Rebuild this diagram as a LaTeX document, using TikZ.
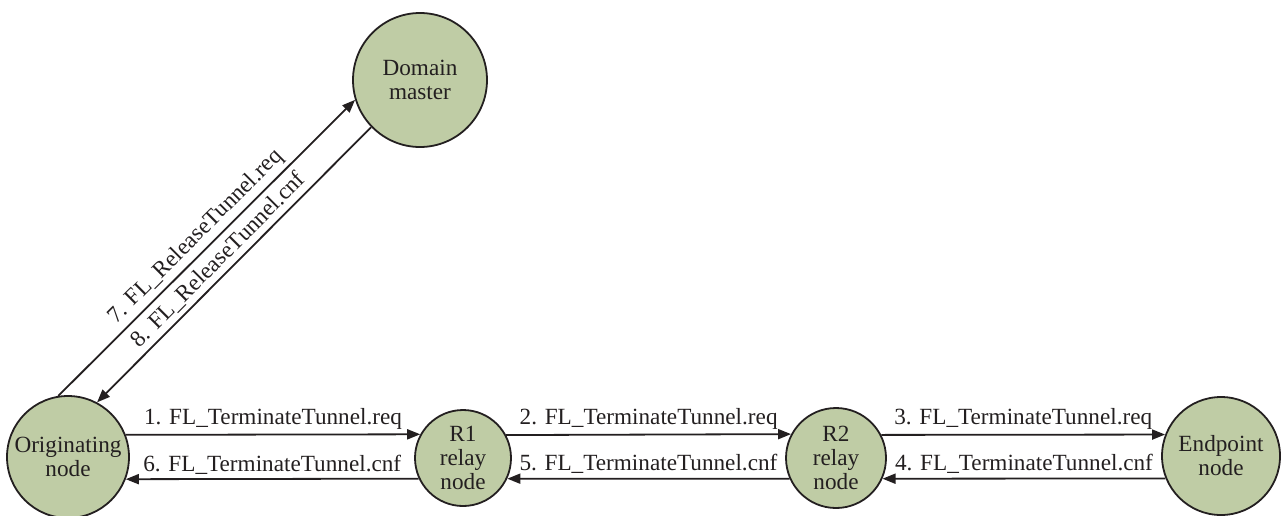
\documentclass[tikz,border=0pt]{standalone}
\usepackage{fontspec}
\setmainfont{Liberation Serif}
\usetikzlibrary{arrows.meta}
\definecolor{nodefill}{RGB}{191,204,165}
\definecolor{ink}{RGB}{35,31,32}
\begin{document}
\begin{tikzpicture}[x=0.5pt,y=-0.5pt,
  statenode/.style={circle, draw=ink, line width=0.9pt, fill=nodefill, inner sep=0pt,
    align=center, text=ink, font=\fontsize{11.6}{12}\selectfont},
  msg/.style={draw=ink, line width=0.9pt, -{Triangle[length=6.5pt,width=5pt]}},
  msgback/.style={draw=ink, line width=0.9pt, {Triangle[length=6.5pt,width=5pt]}-},
  lbl/.style={font=\fontsize{11.6}{12}\selectfont, text=ink, inner sep=2pt}]
\useasboundingbox (0,0) rectangle (1288,515);
\node[statenode, minimum size=67pt] (dm) at (420,80) {Domain\\master};
\node[statenode, minimum size=61pt] (orig) at (68,457) {Originating\\node};
\node[statenode, minimum size=48pt] (r1) at (463,458) {R1\\relay\\node};
\node[statenode, minimum size=50pt] (r2) at (836,458) {R2\\relay\\node};
\node[statenode, minimum size=59pt] (ep) at (1221,456) {Endpoint\\node};
% horizontal messages
\draw[msg] (orig.21.1) -- node[lbl, above] {1. FL\_TerminateTunnel.req} (r1.151.4);
\draw[msg] (r1.28.6) -- node[lbl, above] {2. FL\_TerminateTunnel.req} (r2.152.6);
\draw[msg] (r2.27.4) -- node[lbl, above] {3. FL\_TerminateTunnel.req} (ep.159.1);
\draw[msg] (ep.202.9) -- node[lbl, above] {4. FL\_TerminateTunnel.cnf} (r2.-24.8);
\draw[msg] (r2.204.8) -- node[lbl, above] {5. FL\_TerminateTunnel.cnf} (r1.-25.9);
\draw[msg] (r1.205.9) -- node[lbl, above] {6. FL\_TerminateTunnel.cnf} (orig.-21.1);
% diagonal messages
\draw[msg] (orig.99.2) -- node[lbl, above, sloped] {7. FL\_ReleaseTunnel.req} (dm.197.6);
\draw[msgback] (orig.62.2) -- node[lbl, above, sloped, pos=0.48] {8. FL\_ReleaseTunnel.cnf} (dm.224.4);
\end{tikzpicture}
\end{document}
